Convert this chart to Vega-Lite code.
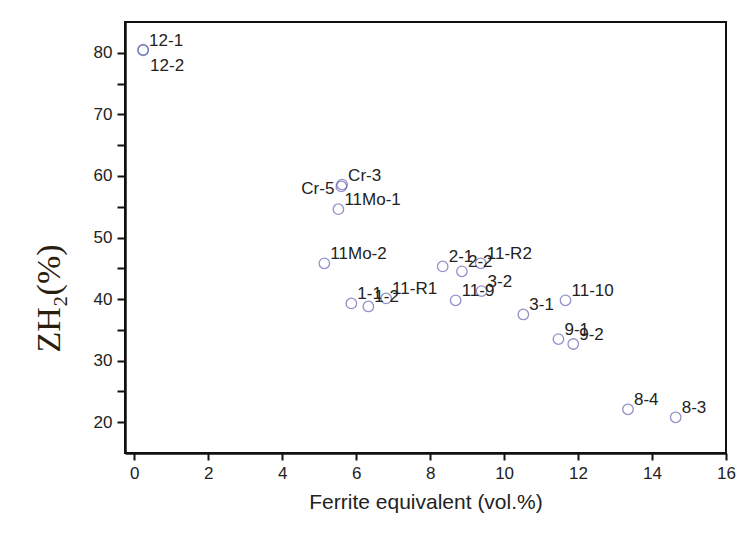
{
  "$schema": "https://vega.github.io/schema/vega-lite/v6.json",
  "width": 601,
  "height": 431,
  "autosize": {"type": "none"},
  "padding": {"left": 125, "top": 22, "right": 20, "bottom": 80},
  "background": "white",
  "config": {
    "view": {"stroke": "#111", "strokeWidth": 2},
    "font": "Liberation Sans"
  },
  "data": {
    "values": [
      {"name": "12-1", "fe": 0.24, "z": 80.5},
      {"name": "12-2", "fe": 0.24, "z": 80.4},
      {"name": "Cr-3", "fe": 5.62, "z": 58.6},
      {"name": "Cr-5", "fe": 5.6, "z": 58.3},
      {"name": "11Mo-1", "fe": 5.52, "z": 54.6},
      {"name": "11Mo-2", "fe": 5.14, "z": 45.8},
      {"name": "1-1", "fe": 5.87, "z": 39.3},
      {"name": "1-2", "fe": 6.33, "z": 38.8},
      {"name": "11-R1", "fe": 6.81, "z": 40.1},
      {"name": "2-1", "fe": 8.34, "z": 45.3},
      {"name": "2-2", "fe": 8.86, "z": 44.5},
      {"name": "11-R2", "fe": 9.37, "z": 45.8},
      {"name": "11-9", "fe": 8.69, "z": 39.8},
      {"name": "3-2", "fe": 9.39, "z": 41.3},
      {"name": "3-1", "fe": 10.52, "z": 37.5},
      {"name": "11-10", "fe": 11.66, "z": 39.8},
      {"name": "9-1", "fe": 11.47, "z": 33.5},
      {"name": "9-2", "fe": 11.87, "z": 32.7},
      {"name": "8-4", "fe": 13.35, "z": 22.1},
      {"name": "8-3", "fe": 14.64, "z": 20.8}
    ]
  },
  "encoding": {
    "x": {
      "field": "fe", "type": "quantitative",
      "scale": {"domain": [-0.25, 16], "nice": false, "zero": false},
      "axis": {
        "title": "Ferrite equivalent (vol.%)",
        "values": [0, 2, 4, 6, 8, 10, 12, 14, 16],
        "grid": false,
        "domainColor": "#111", "domainWidth": 2.5,
        "tickColor": "#111", "tickWidth": 2, "tickSize": 7,
        "labelFontSize": 17, "labelColor": "#222", "labelPadding": 5,
        "labelFlush": false,
        "titleFontSize": 21, "titleFontWeight": "normal", "titleColor": "#222",
        "titlePadding": 10
      }
    },
    "y": {
      "field": "z", "type": "quantitative",
      "scale": {"domain": [15, 85], "nice": false, "zero": false},
      "axis": {
        "title": "ZH₂(%)",
        "values": [20, 25, 30, 35, 40, 45, 50, 55, 60, 65, 70, 75, 80],
        "labelExpr": "datum.value % 10 === 0 ? datum.label : ''",
        "grid": false,
        "domainColor": "#111", "domainWidth": 2.5,
        "tickColor": "#111", "tickWidth": 2, "tickSize": 8,
        "labelFontSize": 17, "labelColor": "#222", "labelPadding": 5,
        "labelFlush": false,
        "titleFont": "Liberation Serif", "titleFontSize": 34,
        "titleFontWeight": "normal", "titleColor": "#2a1e10",
        "titleAngle": -90, "titleAlign": "center", "titleBaseline": "middle",
        "titleX": -76, "titleY": 276
      }
    }
  },
  "layer": [
    {
      "mark": {"type": "point", "shape": "circle", "filled": false, "size": 110, "stroke": "#6464b4", "strokeWidth": 1.3}
    },
    {
      "transform": [{"filter": {"not": {"field": "name", "oneOf": ["12-2", "Cr-5"]}}}],
      "mark": {"type": "text", "align": "left", "baseline": "middle", "dx": 6, "dy": -9, "fontSize": 17, "color": "#222"},
      "encoding": {"text": {"field": "name"}}
    },
    {
      "transform": [{"filter": {"field": "name", "equal": "12-2"}}],
      "mark": {"type": "text", "align": "left", "baseline": "middle", "dx": 7, "dy": 16, "fontSize": 17, "color": "#222"},
      "encoding": {"text": {"field": "name"}}
    },
    {
      "transform": [{"filter": {"field": "name", "equal": "Cr-5"}}],
      "mark": {"type": "text", "align": "right", "baseline": "middle", "dx": -7, "dy": 3, "fontSize": 17, "color": "#222"},
      "encoding": {"text": {"field": "name"}}
    }
  ]
}
